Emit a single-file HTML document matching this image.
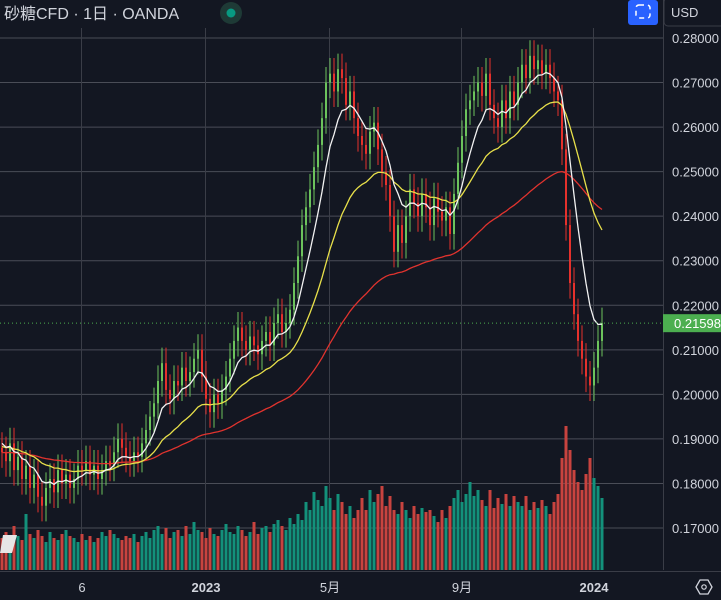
<!DOCTYPE html>
<html><head><meta charset="utf-8"><style>
html,body{margin:0;padding:0;background:#131722;overflow:hidden}
#wrap{position:relative;width:721px;height:600px;background:#131722;font-family:"Liberation Sans","Noto Sans CJK JP",sans-serif}
svg{position:absolute;left:0;top:0}
</style></head><body>
<div id="wrap">
<svg id="chart" width="721" height="600"></svg>
</div>
<script>
const priceTicks=[0.28,0.27,0.26,0.25,0.24,0.23,0.22,0.21,0.20,0.19,0.18,0.17];
const timeLabels=["6","2023","5月","9月","2024"];
const timeLabelBars=[20,51,82,115,148];
const preHistory=[0.184,0.186,0.183,0.181,0.184,0.186,0.188,0.185,0.183,0.186,0.184,0.182,0.185,0.187,
0.180,0.182,0.184,0.181,0.183,0.185,0.182,0.180,0.183,0.185,0.187,0.184,0.182,0.185,0.187,0.183,0.181,0.184,0.186,0.183,0.185,0.187,0.184,0.186,0.188,0.185,
0.190,0.192,0.189,0.191,0.193,0.190,0.188,0.191,0.189,0.187,0.190,0.192,0.188,0.186,0.189,0.191,0.188,0.186,0.184,0.187,0.189,0.186,0.184,0.186,0.188,0.185,0.183,0.186,0.188,0.190,0.187,0.185,0.188,0.190,0.192,0.189,0.191,0.193,0.190,0.188];
const closes=[0.187,0.185,0.189,0.183,0.186,0.181,0.184,0.179,0.182,0.177,
0.175,0.179,0.181,0.178,0.183,0.180,0.182,0.179,0.181,0.184,
0.183,0.185,0.182,0.184,0.181,0.183,0.185,0.184,0.187,0.190,
0.188,0.186,0.185,0.187,0.186,0.189,0.192,0.195,0.198,0.203,
0.207,0.201,0.199,0.203,0.202,0.206,0.203,0.205,0.208,0.210,
0.204,0.199,0.196,0.200,0.198,0.201,0.204,0.208,0.212,0.215,
0.212,0.210,0.213,0.211,0.209,0.212,0.214,0.211,0.216,0.218,
0.214,0.216,0.219,0.225,0.231,0.238,0.242,0.246,0.251,0.256,
0.262,0.270,0.272,0.268,0.273,0.271,0.265,0.268,0.262,0.258,
0.256,0.254,0.259,0.261,0.255,0.250,0.247,0.240,0.232,0.238,
0.234,0.240,0.246,0.243,0.240,0.245,0.242,0.238,0.244,0.241,
0.239,0.242,0.236,0.245,0.252,0.258,0.264,0.266,0.268,0.270,
0.267,0.272,0.265,0.262,0.260,0.266,0.262,0.268,0.265,0.270,
0.274,0.271,0.276,0.273,0.275,0.272,0.274,0.271,0.268,0.266,
0.255,0.238,0.225,0.218,0.212,0.208,0.204,0.202,0.206,0.212,
0.21598];
const volumes=[80,95,70,110,85,75,140,90,80,100,
85,70,95,80,75,90,100,85,80,70,
90,75,85,70,80,95,85,100,90,80,
75,85,80,90,70,85,95,80,100,110,
90,105,80,95,100,85,110,90,120,100,
95,80,105,90,85,100,115,95,90,110,
100,85,95,120,90,105,110,95,115,125,
110,100,130,115,140,125,170,150,195,175,
160,210,180,150,190,170,140,160,130,150,
180,150,200,170,190,210,160,185,150,140,
170,150,130,160,140,155,145,150,135,120,
150,130,160,180,200,170,190,220,185,200,
175,160,200,155,180,165,190,160,185,170,
160,185,150,170,155,175,160,140,170,190,
280,360,300,250,220,200,240,280,230,210,
180];
const lastPrice=0.21598;

const NS="http://www.w3.org/2000/svg";
const svg=document.getElementById('chart');
const X0=2,DX=4,PLOT_R=663;
function xOf(i){return X0+i*DX;}
function yOf(p){return 38+(0.28-p)*4454.5;}
function vH(v){return v*0.4;}
function mk(tag,attrs,parent){const e=document.createElementNS(NS,tag);for(const k in attrs)e.setAttribute(k,attrs[k]);(parent||svg).appendChild(e);return e;}

const grid=mk('g',{});


priceTicks.forEach(p=>{const l=mk('line',{x1:0,x2:PLOT_R,y1:yOf(p),y2:yOf(p),stroke:'#4a4d57','stroke-width':1},grid);

});
timeLabelBars.forEach(b=>{const l=mk('line',{x1:xOf(b)-0.5,x2:xOf(b)-0.5,y1:28,y2:570,stroke:'#3a3d47','stroke-width':1},grid);

});

const vg=mk('g',{});


closes.forEach((c,i)=>{const o=i?closes[i-1]:preHistory[preHistory.length-1];const up=c>=o;const h=vH(volumes[i]);
const r=mk('rect',{x:xOf(i)-1.5,y:570-h,width:3,height:h,fill:up?'#13917b':'#c8433f'},vg);

});

const cg=mk('g',{});


closes.forEach((c,i)=>{const o=i?closes[i-1]:preHistory[preHistory.length-1];const up=c>=o;const col=up?'#6cc35c':'#e5312c';
const hi=Math.max(o,c)+0.0035,lo=Math.min(o,c)-0.0035;
const w=mk('line',{x1:xOf(i),x2:xOf(i),y1:yOf(hi),y2:yOf(lo),stroke:col,'stroke-width':1},cg);


const yt=yOf(Math.max(o,c)),yb=yOf(Math.min(o,c));
const b=mk('rect',{x:xOf(i)-1,y:yt,width:2,height:Math.max(1,yb-yt),fill:col},cg);

});

const all=preHistory.concat(closes);
function ema(n,color,name){const a=2/(n+1);let e=all[0];let pts=[];all.forEach((v,j)=>{e=j?a*v+(1-a)*e:v;const i=j-preHistory.length;if(i>=0)pts.push(xOf(i)+','+yOf(e).toFixed(1));});
const p=mk('polyline',{points:pts.join(' '),fill:'none',stroke:color,'stroke-width':1.3});

}
ema(75,'#e0332e','ma-long-red');
ema(26,'#e8e04a','ma-mid-yellow');
ema(8,'#f2f2f2','ma-short-white');

const lp=mk('line',{x1:0,x2:PLOT_R,y1:yOf(lastPrice),y2:yOf(lastPrice),stroke:'#4caf50','stroke-width':1,'stroke-dasharray':'1,3'});



const ax=mk('g',{});


mk('rect',{x:PLOT_R,y:0,width:58,height:600,fill:'#131722'},ax);
mk('line',{x1:PLOT_R+0.5,x2:PLOT_R+0.5,y1:0,y2:570,stroke:'#3a3d47'},ax);
priceTicks.forEach(p=>{const t=mk('text',{x:672,y:yOf(p)+5,fill:'#d1d4dc','font-size':13},ax);t.textContent=p.toFixed(5);

});
const lb=mk('rect',{x:663,y:yOf(lastPrice)-9,width:58,height:18,fill:'#4caf50'},ax);


const lt=mk('text',{x:674,y:yOf(lastPrice)+5,fill:'#fff','font-size':13},ax);lt.textContent=lastPrice.toFixed(5);



const tx=mk('g',{});


mk('rect',{x:0,y:571,width:PLOT_R,height:29,fill:'#131722'},tx);
mk('line',{x1:0,x2:721,y1:571.5,y2:571.5,stroke:'#3a3d47'},tx);
timeLabels.forEach((s,k)=>{const t=mk('text',{x:xOf(timeLabelBars[k]),y:592,fill:'#d1d4dc','font-size':13,'text-anchor':'middle','font-weight':s.length===4?'bold':'normal'},tx);t.textContent=s;

});
</script>
<svg width="721" height="600" style="pointer-events:none">
<text x="4" y="19" fill="#d1d4dc" font-size="16" font-family="Liberation Sans, Noto Sans CJK JP, sans-serif">砂糖CFD · 1日 · OANDA</text>
<circle cx="231" cy="13" r="11" fill="#1e3a36"/>
<circle cx="231" cy="13" r="4.5" fill="#089981"/>
<rect x="628" y="0" width="30" height="25" rx="3" fill="#2962ff"/>
<rect x="636" y="5" width="14" height="13" rx="3" fill="none" stroke="#fff" stroke-width="1.5" stroke-dasharray="5,4"/>
<rect x="664" y="-2" width="60" height="28" rx="4" fill="#131722" stroke="#3a3d47"/>
<text x="671" y="17" fill="#d1d4dc" font-size="13" font-family="Liberation Sans, sans-serif">USD</text>
<polygon points="3,535 17,535 12,553 0,553" fill="#e6e6e6"/>
<polygon points="700,580 708,580 712,587 708,594 700,594 696,587" fill="none" stroke="#d1d4dc" stroke-width="1.3"/>
<circle cx="704" cy="587" r="2.2" fill="none" stroke="#d1d4dc" stroke-width="1.2"/>
</svg>
</body></html>
